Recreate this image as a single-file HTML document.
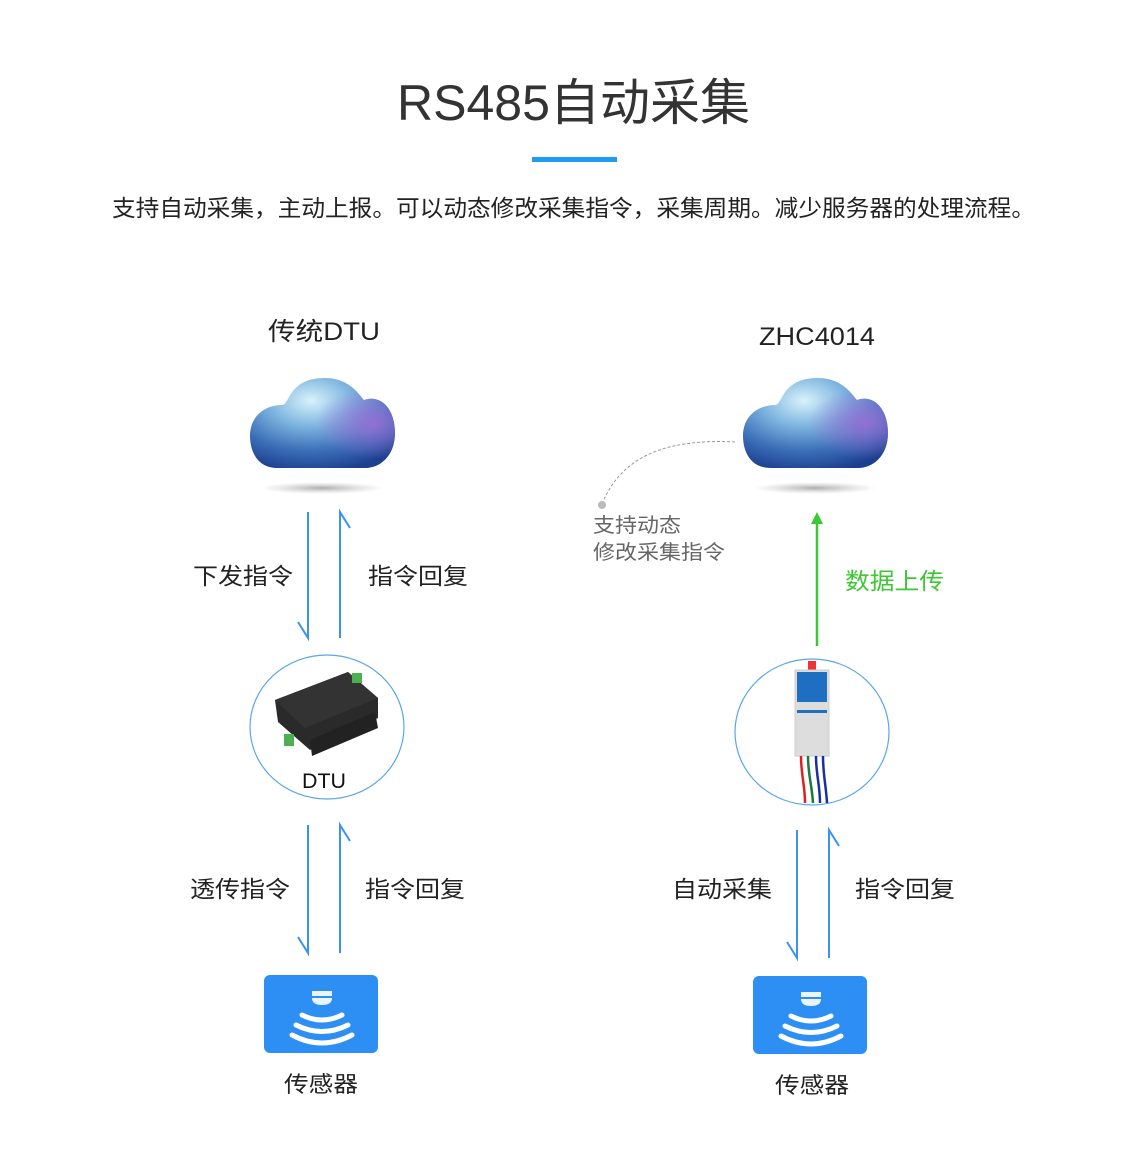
<!DOCTYPE html>
<html><head><meta charset="utf-8"><style>
html,body{margin:0;padding:0;background:#fff}
svg{display:block}
text{font-family:"Liberation Sans","Noto Sans CJK SC",sans-serif}
</style></head><body>
<svg width="1140" height="1170" viewBox="0 0 1140 1170" xmlns="http://www.w3.org/2000/svg">
<defs>
<radialGradient id="cg" cx="0.42" cy="0.25" r="0.8">
<stop offset="0" stop-color="#d8f2fb"/><stop offset="0.35" stop-color="#7fb6e0"/><stop offset="0.7" stop-color="#3b6fb8"/><stop offset="1" stop-color="#1d3f8f"/>
</radialGradient>
<radialGradient id="cp" cx="0.85" cy="0.5" r="0.4">
<stop offset="0" stop-color="#9a6fd6" stop-opacity="0.9"/><stop offset="1" stop-color="#9a6fd6" stop-opacity="0"/>
</radialGradient>
<radialGradient id="sh" cx="0.5" cy="0.5" r="0.5">
<stop offset="0" stop-color="#999" stop-opacity="0.8"/><stop offset="1" stop-color="#bbb" stop-opacity="0"/>
</radialGradient>
<g id="cloud">
<path d="M28,90 C5,90 0,70 0,58 C0,38 15,27 32,27 C40,27 38,0 75,0 C100,0 110,18 114,22 C130,16 145,30 145,55 C145,78 130,90 115,90 Z" fill="url(#cg)"/>
<path d="M28,90 C5,90 0,70 0,58 C0,38 15,27 32,27 C40,27 38,0 75,0 C100,0 110,18 114,22 C130,16 145,30 145,55 C145,78 130,90 115,90 Z" fill="url(#cp)"/>
<ellipse cx="72" cy="110" rx="62" ry="6" fill="url(#sh)"/>
</g>
<g id="sensor">
<rect width="114" height="78" rx="6" fill="#2d8ff3"/>
<path d="M48,16 h20 v5 h-20z M48,23 h20 q0,7 -10,7 q-10,0 -10,-7z" fill="#fff" opacity="0.9"/>
<path d="M38,40 q20,10 40,0 M32,50 q26,13 52,0 M28,60 q30,16 60,0" stroke="#fff" stroke-width="5" fill="none" stroke-linecap="round"/>
</g>
</defs>

<text x="397" y="120" textLength="353" lengthAdjust="spacingAndGlyphs" font-size="50" fill="#333">RS485自动采集</text>
<rect x="532" y="157" width="85" height="5" fill="#1e9cf0"/>
<text x="112" y="216" textLength="923" lengthAdjust="spacingAndGlyphs" font-size="23" fill="#222">支持自动采集，主动上报。可以动态修改采集指令，采集周期。减少服务器的处理流程。</text>

<text x="268" y="340" textLength="112" lengthAdjust="spacingAndGlyphs" font-size="25" fill="#222">传统DTU</text>
<text x="759" y="345" textLength="116" lengthAdjust="spacingAndGlyphs" font-size="25" fill="#222">ZHC4014</text>

<use href="#cloud" x="250" y="378"/>
<use href="#cloud" x="743" y="378"/>

<g stroke="#3a93f0" stroke-width="2" fill="none">
<path d="M308,512 V638 L298,622"/>
<path d="M340,638 V512 L350,528"/>
<path d="M308,825 V953 L298,937"/>
<path d="M340,953 V825 L350,841"/>
<path d="M797,830 V958 L787,942"/>
<path d="M829,958 V830 L839,846"/>
</g>
<path d="M817,646 V522" stroke="#3cc832" stroke-width="2.5"/>
<path d="M811,524 L817,512 L823,524Z" fill="#3cc832"/>

<path d="M602,504 C620,460 660,438 736,442" stroke="#999" stroke-width="1" stroke-dasharray="3,2" fill="none"/>
<circle cx="602" cy="505" r="4" fill="#bbb"/>
<text x="593" y="532" textLength="88" lengthAdjust="spacingAndGlyphs" font-size="20" fill="#666">支持动态</text>
<text x="593" y="559" textLength="132" lengthAdjust="spacingAndGlyphs" font-size="20" fill="#666">修改采集指令</text>

<g font-size="23" fill="#222">
<text x="193" y="584" textLength="100" lengthAdjust="spacingAndGlyphs">下发指令</text>
<text x="368" y="584" textLength="100" lengthAdjust="spacingAndGlyphs">指令回复</text>
<text x="845" y="589" textLength="99" lengthAdjust="spacingAndGlyphs" fill="#3cc832">数据上传</text>
<text x="190" y="897" textLength="100" lengthAdjust="spacingAndGlyphs">透传指令</text>
<text x="365" y="897" textLength="100" lengthAdjust="spacingAndGlyphs">指令回复</text>
<text x="672" y="897" textLength="100" lengthAdjust="spacingAndGlyphs">自动采集</text>
<text x="855" y="897" textLength="100" lengthAdjust="spacingAndGlyphs">指令回复</text>
</g>

<ellipse cx="327" cy="727" rx="77" ry="72" fill="#fff" stroke="#5aa5ef" stroke-width="1.2"/>
<g>
<path d="M275,700 L348,672 L378,698 L378,718 L310,750 L278,722Z" fill="#2a2a2a"/>
<path d="M275,700 L348,672 L378,698 L305,728Z" fill="#333"/>
<path d="M310,740 L375,712 L378,728 L312,756Z" fill="#222"/>
<rect x="284" y="734" width="10" height="12" fill="#4caf50"/>
<rect x="352" y="673" width="10" height="10" fill="#4caf50"/>
</g>
<text x="302" y="788" textLength="44" lengthAdjust="spacingAndGlyphs" font-size="21" fill="#111">DTU</text>

<ellipse cx="812" cy="732" rx="77" ry="73" fill="#fff" stroke="#5aa5ef" stroke-width="1.2"/>
<rect x="808" y="661" width="8" height="10" fill="#e33"/>
<rect x="795" y="670" width="34" height="86" fill="#ddd" stroke="#ccc"/>
<rect x="797" y="672" width="30" height="30" fill="#1e6fc2"/>
<rect x="797" y="710" width="30" height="3" fill="#1e6fc2"/>
<path d="M801,756 C801,775 805,785 805,803" stroke="#d22" stroke-width="2.5" fill="none"/>
<path d="M808,756 C808,775 812,785 813,803" stroke="#187a3c" stroke-width="2.5" fill="none"/>
<path d="M816,756 C816,775 820,785 820,803" stroke="#1a2fa0" stroke-width="2.5" fill="none"/>
<path d="M823,756 C823,775 826,785 827,803" stroke="#1a2fa0" stroke-width="2.5" fill="none"/>

<use href="#sensor" x="264" y="975"/>
<use href="#sensor" x="753" y="976"/>
<text x="284" y="1092" textLength="74" lengthAdjust="spacingAndGlyphs" font-size="22" fill="#222">传感器</text>
<text x="775" y="1093" textLength="74" lengthAdjust="spacingAndGlyphs" font-size="22" fill="#222">传感器</text>
</svg>
</body></html>
